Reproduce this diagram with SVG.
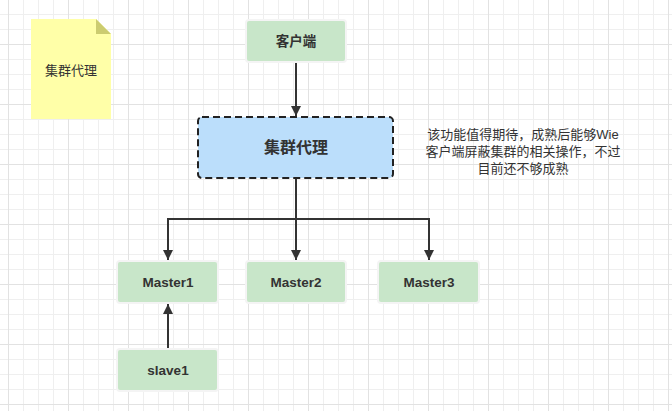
<svg xmlns="http://www.w3.org/2000/svg" width="672" height="411" viewBox="0 0 672 411">
<style>
.t{font-family:"Liberation Sans","Noto Sans CJK SC",sans-serif;fill:#333;text-anchor:middle;dominant-baseline:central}
.g{fill:#c8e6c9;stroke:#f4f4f4;stroke-width:2}
.b{font-weight:bold;font-size:13.5px}
.c{stroke:#333;stroke-width:2;fill:none}
</style>
<defs>
<pattern id="minor" patternUnits="userSpaceOnUse" x="8" y="14" width="15" height="15">
<path d="M0.5 0V15M0 0.5H15" stroke="#efefef" stroke-width="1" fill="none"/>
</pattern>
<pattern id="major" patternUnits="userSpaceOnUse" x="8" y="44" width="60" height="60">
<path d="M0.5 0V60M0 0.5H60" stroke="#e2e2e2" stroke-width="1" fill="none"/>
</pattern>
<marker id="arr" viewBox="0 0 10 10" refX="10" refY="5" markerWidth="5" markerHeight="5" orient="auto" markerUnits="strokeWidth">
<path d="M0 0L10 5L0 10Z" fill="#333"/>
</marker>
</defs>
<rect width="672" height="411" fill="#fff"/>
<rect width="672" height="411" fill="url(#minor)"/>
<rect width="672" height="411" fill="url(#major)"/>
<g id="connectors">
<path class="c" d="M296 62V116" marker-end="url(#arr)"/>
<path class="c" d="M296 178V219H168V260" marker-end="url(#arr)"/>
<path class="c" d="M296 219V260" marker-end="url(#arr)"/>
<path class="c" d="M296 219H429V260" marker-end="url(#arr)"/>
<path class="c" d="M168 348V304" marker-end="url(#arr)"/>
</g>
<g id="note">
<path d="M31 19H96L111 34V119H31Z" fill="#ffffa8"/>
<path d="M96 19L111 34H96Z" fill="#cccc70"/>
<text class="t" x="71" y="70" font-size="13">集群代理</text>
</g>
<g id="client">
<rect class="g" x="246" y="20" width="100" height="42" rx="3"/>
<text class="t b" x="296" y="41">客户端</text>
</g>
<g id="proxy">
<rect x="198" y="117" width="195" height="61" rx="4" fill="#bbdefb" stroke="#222" stroke-width="2" stroke-dasharray="7 4"/>
<text class="t" x="296" y="147.5" font-size="16" font-weight="bold">集群代理</text>
</g>
<g id="annotation">
<text class="t" x="523" font-size="13"><tspan x="523" y="134">该功能值得期待，成熟后能够Wie</tspan><tspan x="523" y="151">客户端屏蔽集群的相关操作，不过</tspan><tspan x="523" y="168">目前还不够成熟</tspan></text>
</g>
<g id="master1">
<rect class="g" x="117" y="261" width="101" height="42" rx="3"/>
<text class="t b" x="168" y="282">Master1</text>
</g>
<g id="master2">
<rect class="g" x="246" y="261" width="100" height="42" rx="3"/>
<text class="t b" x="296" y="282">Master2</text>
</g>
<g id="master3">
<rect class="g" x="378" y="261" width="101" height="42" rx="3"/>
<text class="t b" x="429" y="282">Master3</text>
</g>
<g id="slave1">
<rect class="g" x="117" y="349" width="101" height="42" rx="3"/>
<text class="t b" x="168" y="370">slave1</text>
</g>
</svg>
